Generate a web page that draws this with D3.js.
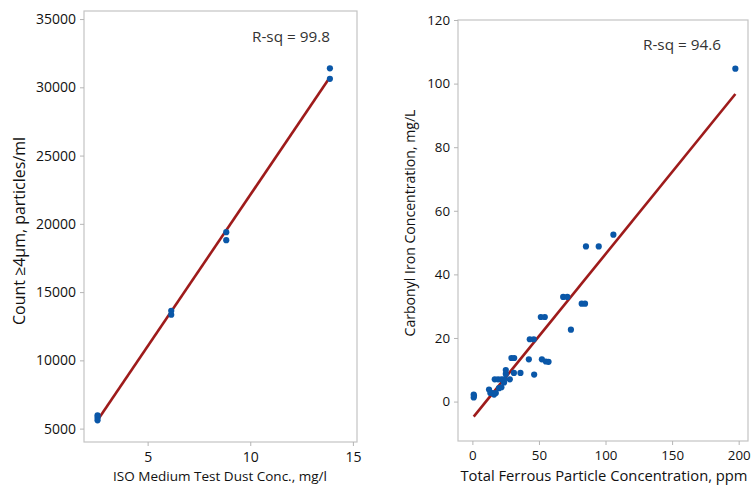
<!DOCTYPE html>
<html lang="en">
<head>
  <meta charset="utf-8">
  <title>Regression plots</title>
  <script src="https://cdn.jsdelivr.net/npm/d3@7"></script>
  <style>
    body { margin: 0; background: #fff; }
    svg text { font-family: "Open Sans", sans-serif; }
  </style>
</head>
<body>
<svg id="chart" width="751" height="486"></svg>
<script>
  // left panel: ISO dust vs count >= 4um
  var dustConc  = [2.56, 2.56, 2.56, 6.15, 6.15, 8.83, 8.83, 13.88, 13.88];
  var dustCount = [5975, 5800, 5610, 13630, 13340, 19390, 18800, 31390, 30620];
  var leftXTicks = [5, 10, 15];
  var leftYTicks = [5000, 10000, 15000, 20000, 25000, 30000, 35000];

  // right panel: total ferrous particles vs carbonyl iron
  var ferrous  = [1.0, 1.0, 1.2, 12.5, 13.5, 15.0, 16.3, 17.6, 20.0, 21.8, 23.8,
                  16.8, 19.3, 21.8, 23.8, 28.1, 25.1, 25.1, 31.2, 36.1, 46.4,
                  29.3, 31.4, 42.4, 52.2, 55.2, 57.2, 43.1, 46.1, 51.4, 54.4,
                  74.0, 68.2, 71.3, 82.1, 84.6, 85.3, 94.9, 105.9, 197.5];
  var carbonyl = [2.2, 1.3, 1.8, 3.8, 2.7, 2.7, 2.2, 2.7, 4.2, 4.5, 6.0,
                  7.0, 7.0, 7.0, 7.0, 7.0, 9.9, 8.7, 9.0, 9.0, 8.5,
                  13.7, 13.7, 13.3, 13.3, 12.6, 12.5, 19.6, 19.6, 26.6, 26.6,
                  22.6, 32.9, 32.9, 30.8, 30.8, 48.8, 48.8, 52.5, 104.7];
  var rightXTicks = [0, 50, 100, 150, 200];
  var rightYTicks = [0, 20, 40, 60, 80, 100, 120];

  var rsqLabels = ["R-sq = 99.8", "R-sq = 94.6"];

  var svg = d3.select("#chart");

  // least squares line
  function fit(xs, ys) {
    var mx = d3.mean(xs), my = d3.mean(ys);
    var sxy = d3.sum(xs, function(x, i) { return (x - mx) * (ys[i] - my); });
    var sxx = d3.sum(xs, function(x) { return (x - mx) * (x - mx); });
    var b = sxy / sxx;
    return { a: my - b * mx, b: b };
  }

  // scale a text's font so it spans about the width seen in the picture
  function sizeTo(t, w) {
    t.style("font-size", "14px");
    var len = t.node().getComputedTextLength();
    t.style("font-size", (14 * w / len).toFixed(2) + "px");
    return t;
  }

  function panel(opt) {
    var x = d3.scaleLinear().domain(opt.xDomain).range([opt.left, opt.right]);
    var y = d3.scaleLinear().domain(opt.yDomain).range([opt.bottom, opt.top]);
    var g = svg.append("g");

    g.append("rect")
      .attr("x", opt.left).attr("y", opt.top)
      .attr("width", opt.right - opt.left).attr("height", opt.bottom - opt.top)
      .attr("fill", "none").attr("stroke", "#c4c4c4").attr("stroke-width", 1.2);

    var xa = g.append("g").attr("transform", "translate(0," + opt.bottom + ")")
      .call(d3.axisBottom(x).tickValues(opt.xTicks).tickFormat(d3.format("d"))
        .tickSize(4).tickPadding(6));
    var ya = g.append("g").attr("transform", "translate(" + opt.left + ",0)")
      .call(d3.axisLeft(y).tickValues(opt.yTicks).tickFormat(d3.format("d"))
        .tickSize(4).tickPadding(4));
    [xa, ya].forEach(function(a) {
      a.select(".domain").remove();
      a.selectAll("line").attr("stroke", "#b5b5b5");
      a.selectAll("text").attr("fill", "#111").style("font-size", opt.tickFont + "px");
    });

    var f = fit(opt.xs, opt.ys);
    var x0 = d3.min(opt.xs), x1 = d3.max(opt.xs);
    g.append("line")
      .attr("x1", x(x0)).attr("y1", y(f.a + f.b * x0))
      .attr("x2", x(x1)).attr("y2", y(f.a + f.b * x1))
      .attr("stroke", "#9e1b1b").attr("stroke-width", 2.6);

    g.selectAll("circle").data(opt.xs).enter().append("circle")
      .attr("cx", function(d) { return x(d); })
      .attr("cy", function(d, i) { return y(opt.ys[i]); })
      .attr("r", 3.1)
      .attr("fill", "#0a57a8");

    sizeTo(g.append("text")
      .attr("x", opt.rsqX).attr("y", opt.rsqY)
      .attr("fill", "#333")
      .text(opt.rsq), 78);

    sizeTo(g.append("text")
      .attr("x", opt.xLabelX).attr("y", 481)
      .attr("text-anchor", "middle").attr("fill", "#111")
      .text(opt.xLabel), opt.xLabelW);

    sizeTo(g.append("text")
      .attr("transform", "translate(" + opt.yLabelX + "," + opt.yLabelY + ") rotate(-90)")
      .attr("text-anchor", "middle").attr("fill", "#111")
      .text(opt.yLabel), opt.yLabelW);
  }

  panel({
    left: 84, right: 357, top: 11, bottom: 442,
    xDomain: [1.9, 15.2], yDomain: [4020, 35590],
    xTicks: leftXTicks, yTicks: leftYTicks, tickFont: 14,
    xs: dustConc, ys: dustCount,
    rsq: rsqLabels[0], rsqX: 252, rsqY: 42,
    xLabel: "ISO Medium Test Dust Conc., mg/l", xLabelX: 220, xLabelW: 214,
    yLabel: "Count \u22654\u00b5m, particles/ml", yLabelX: 25, yLabelY: 231, yLabelW: 188
  });

  panel({
    left: 458, right: 748, top: 20, bottom: 441,
    xDomain: [-10.8, 207], yDomain: [-12.4, 120],
    xTicks: rightXTicks, yTicks: rightYTicks, tickFont: 13.3,
    xs: ferrous, ys: carbonyl,
    rsq: rsqLabels[1], rsqX: 643, rsqY: 50,
    xLabel: "Total Ferrous Particle Concentration, ppm", xLabelX: 604, xLabelW: 287,
    yLabel: "Carbonyl Iron Concentration, mg/L", yLabelX: 415, yLabelY: 223, yLabelW: 227
  });
</script>
</body>
</html>
